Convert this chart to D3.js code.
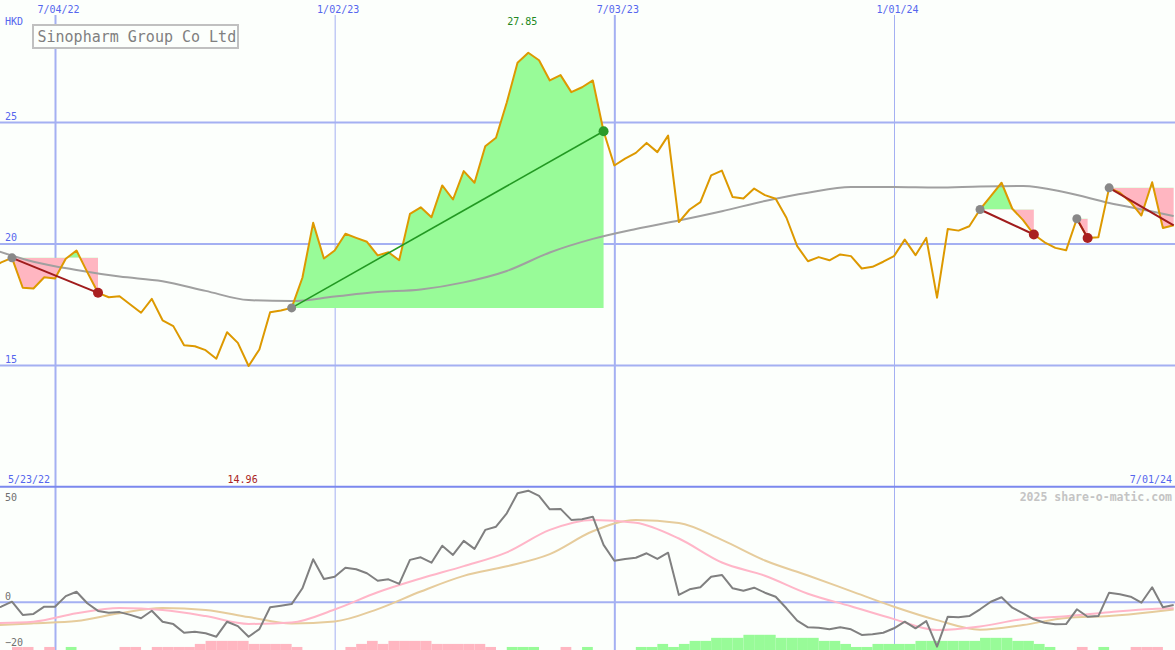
<!DOCTYPE html>
<html><head><meta charset="utf-8">
<script src="https://cdn.jsdelivr.net/npm/d3@7"></script>
<style>html,body{margin:0;padding:0;background:#fcfffc;} svg{display:block;}</style>
</head><body><svg id="c" width="1175" height="650"></svg>
<script>
// ---- data ----
const firstWeek = "2022-05-23";
const lastWeek = "2024-07-01";
const closes = [19.00,19.22,19.41,18.18,18.15,18.61,18.56,19.37,19.71,18.82,
17.97,17.79,17.83,17.49,17.15,17.72,16.84,16.60,15.81,15.77,
15.61,15.26,16.35,15.91,14.96,15.64,17.17,17.24,17.35,18.59,
20.85,19.38,19.71,20.40,20.23,20.07,19.51,19.64,19.31,21.22,
21.49,21.08,22.39,21.81,22.98,22.50,24.00,24.35,25.80,27.44,
27.85,27.54,26.71,26.93,26.23,26.43,26.71,24.62,23.21,23.49,
23.73,24.14,23.76,24.44,20.88,21.40,21.70,22.80,23.00,21.91,
21.85,22.26,21.99,21.84,21.06,19.89,19.27,19.44,19.31,19.55,
19.48,18.97,19.04,19.25,19.48,20.16,19.52,20.23,17.77,20.60,
20.53,20.71,21.40,21.95,22.50,21.43,20.96,20.37,20.05,19.82,
19.72,21.02,20.23,20.26,22.29,22.09,21.70,21.15,22.52,20.64,20.75];
const oscillator = [-3.5,-2.5,0.0,-6.6,-6.1,-2.5,-2.5,2.8,5.0,-0.8,
-4.6,-5.5,-5.2,-6.6,-8.3,-4.5,-10.0,-11.2,-15.5,-15.0,
-15.8,-17.5,-10.0,-12.2,-17.5,-13.7,-2.8,-2.0,-1.2,6.7,
21.2,11.3,12.5,17.0,16.2,14.2,10.5,11.2,8.9,20.9,
22.2,19.5,28.0,23.4,30.4,26.4,35.9,37.5,44.2,54.2,
55.5,52.9,46.2,46.4,40.9,41.2,42.5,28.4,20.5,21.4,
22.0,24.2,21.4,24.5,3.4,6.2,7.2,12.5,13.4,6.7,
5.5,7.0,4.5,2.5,-3.3,-9.5,-12.8,-13.0,-13.8,-12.8,
-13.8,-16.6,-16.3,-15.5,-13.3,-10.0,-13.3,-9.7,-22.5,-7.5,
-7.8,-7.2,-3.8,0.0,2.2,-3.0,-5.8,-8.8,-10.5,-11.3,
-11.2,-3.8,-7.5,-7.2,4.5,3.7,2.5,-0.5,7.2,-2.8,-1.6];
const histogram = [0,0,-1,-1,0,-1,0,1,0,0,
0,0,-1,-1,0,-1,-1,-1,-1,-2,
-3,-3,-3,-3,-2,-2,-2,-2,-1,0,
0,0,0,-1,-2,-3,-2,-3,-3,-3,
-3,-2,-2,-2,-2,-2,-1,0,1,1,
1,0,0,-1,0,1,0,0,0,0,
1,1,2,1,2,3,3,4,4,4,
5,5,5,4,4,4,4,3,3,2,
1,1,2,2,2,2,3,3,3,3,
3,3,4,4,4,3,3,2,1,0,
0,-1,0,1,0,0,-1,-1,-1,0,0];
const avgWeeks = [0,4,8,12,16,20,24,28,32,36,40,44,48,52,56,60,64,68,72,76,80,84,88,92,96,100,104,108,110];
const movingAvg = [19.79,19.25,18.91,18.64,18.45,18.05,17.67,17.63,17.82,18.00,18.11,18.40,18.87,19.63,20.19,20.60,20.95,21.33,21.75,22.09,22.32,22.32,22.30,22.35,22.37,22.10,21.67,21.32,21.13];
const oscFast = [-10.8,-10.0,-5.8,-3.2,-4.2,-7.2,-11.1,-10.4,-3.9,4.7,11.6,17.8,24.7,35.9,40.9,39.5,31.6,19.6,13.0,4.0,-2.3,-8.7,-14.2,-12.4,-8.7,-7.3,-5.3,-3.6,-3.3];
const oscSlow = [-11.9,-10.8,-9.7,-5.8,-3.2,-4.1,-7.7,-10.9,-9.9,-3.7,5.1,12.9,17.7,23.8,35.2,40.8,39.3,30.9,20.6,13.1,5.3,-2.5,-9.2,-14.0,-11.7,-8.1,-7.2,-5.2,-3.9];
const priceTicks = [15, 20, 25];
const oscTicks = [50, 0, -20];
const dateTicks = ["2022-07-04", "2023-01-02", "2023-07-03", "2024-01-01"];
const signalStarts = ["2022-06-06", "2022-12-05", "2024-02-26", "2024-04-29", "2024-05-20"];
const signalEnds   = ["2022-08-01", "2023-06-26", "2024-04-01", "2024-05-06", "2024-07-01"];
const signalOpen   = [false, false, false, false, true];
const title = "Sinopharm Group Co Ltd";
const currency = "HKD";
const credit = "2025 share-o-matic.com";

// ---- setup ----
const W = 1175, H = 650;
const parse = d3.utcParse("%Y-%m-%d");
const fmt = d3.utcFormat("%-m/%d/%y");
const weeks = d3.utcMonday.range(parse(firstWeek), d3.utcDay.offset(parse(lastWeek), 1));
const idx = s => d3.bisectLeft(weeks, parse(s));
const svg = d3.select("#c");
const MONO = "DejaVu Sans Mono, monospace";
const GRID = "#a4b0f2";
const BLUE = "#5566ee";

svg.append("rect").attr("width", W).attr("height", H).attr("fill", "#fcfffc");

const x = d3.scaleUtc().domain([parse(dateTicks[0]), parse(dateTicks[3])]).range([55, 894]);
const y = d3.scaleLinear().domain([15, 25]).range([365, 122]);
const yo = d3.scaleLinear().domain([0, 50]).range([601.7, 501.7]);
const yb = d3.scaleLinear().domain([0, 5]).range([650, 634.8]);

// ---- grid: horizontal price lines ----
const gy = svg.append("g").call(d3.axisLeft(y).tickValues(priceTicks).tickSize(-W).tickFormat(d3.format("d")));
gy.select(".domain").remove();
gy.selectAll("line").attr("stroke", GRID).attr("stroke-width", 2);
gy.selectAll("text").attr("x", 5).attr("y", -3).attr("dy", null).attr("text-anchor", "start")
  .attr("fill", BLUE).attr("font-family", MONO).attr("font-size", 10);

// oscillator zero line and labels
const go = svg.append("g").call(d3.axisLeft(yo).tickValues(oscTicks).tickSize(-W).tickFormat(d3.format("d")));
go.select(".domain").remove();
go.selectAll(".tick line").attr("stroke", d => d === 0 ? GRID : "none").attr("stroke-width", 2);
go.selectAll("text").attr("x", 5).attr("dy", null).attr("text-anchor", "start")
  .attr("y", d => d === 0 ? -2.5 : (d === 50 ? -1.5 : 4))
  .attr("fill", "#707070").attr("font-family", MONO).attr("font-size", 10);

// vertical date lines
const gx = svg.append("g").attr("transform", "translate(0,15)")
  .call(d3.axisTop(x).tickValues(dateTicks.map(parse)).tickSize(-(H - 15)).tickFormat(fmt));
gx.select(".domain").remove();
gx.selectAll("line").attr("stroke", GRID).attr("stroke-width", (d, i) => i % 2 === 0 ? 2 : 1);
gx.selectAll("text").attr("y", -2).attr("dy", null).attr("dx", 3)
  .attr("fill", BLUE).attr("font-family", MONO).attr("font-size", 10);

// ---- signal fills ----
const defs = svg.append("defs");
signalStarts.forEach((s, i) => {
  const a = idx(s), b = idx(signalEnds[i]);
  const base = closes[a];
  const pts = d3.range(a, b + 1);
  const area = d3.area().x(k => x(weeks[k])).y0(y(base)).y1(k => y(closes[k]));
  defs.append("clipPath").attr("id", "up" + i).append("rect")
    .attr("x", 0).attr("y", 0).attr("width", W).attr("height", y(base));
  defs.append("clipPath").attr("id", "dn" + i).append("rect")
    .attr("x", 0).attr("y", y(base)).attr("width", W).attr("height", H);
  svg.append("path").datum(pts).attr("d", area).attr("fill", "#98fb98").attr("clip-path", `url(#up${i})`);
  svg.append("path").datum(pts).attr("d", area).attr("fill", "#ffb6c1").attr("clip-path", `url(#dn${i})`);
});

// moving average
svg.append("path").datum(avgWeeks)
  .attr("d", d3.line().x(k => x(weeks[k])).y((k, i) => y(movingAvg[i])).curve(d3.curveMonotoneX))
  .attr("fill", "none").attr("stroke", "#a0a0a0").attr("stroke-width", 2);

// price line
svg.append("path").datum(closes)
  .attr("d", d3.line().x((d, i) => x(weeks[i])).y(d => y(d)))
  .attr("fill", "none").attr("stroke", "#dd9900").attr("stroke-width", 2).attr("stroke-linejoin", "round");

// trend lines and dots
signalStarts.forEach((s, i) => {
  const a = idx(s), b = idx(signalEnds[i]);
  const gain = closes[b] > closes[a];
  svg.append("line")
    .attr("x1", x(weeks[a])).attr("y1", y(closes[a]))
    .attr("x2", x(weeks[b])).attr("y2", y(closes[b]))
    .attr("stroke", gain ? "#229922" : "#a01c1c").attr("stroke-width", gain ? 1.6 : 2);
});
signalStarts.forEach((s, i) => {
  const a = idx(s), b = idx(signalEnds[i]);
  const gain = closes[b] > closes[a];
  svg.append("circle").attr("cx", x(weeks[a])).attr("cy", y(closes[a])).attr("r", 4.5).attr("fill", "#888888");
  if (!signalOpen[i]) {
    svg.append("circle").attr("cx", x(weeks[b])).attr("cy", y(closes[b])).attr("r", 5)
      .attr("fill", gain ? "#2a9a2a" : "#aa2020");
  }
});

// ---- oscillator panel ----
svg.append("g").selectAll("rect").data(histogram).join("rect")
  .attr("x", (d, i) => x(weeks[i]))
  .attr("width", (d, i) => i + 1 < weeks.length ? x(weeks[i + 1]) - x(weeks[i]) : 0)
  .attr("y", d => yb(Math.abs(d)))
  .attr("height", d => yb(0) - yb(Math.abs(d)))
  .attr("fill", d => d > 0 ? "#98fb98" : "#ffb6c1");

svg.append("path").datum(avgWeeks)
  .attr("d", d3.line().x(k => x(weeks[k])).y((k, i) => yo(oscSlow[i])).curve(d3.curveMonotoneX))
  .attr("fill", "none").attr("stroke", "#e6cc9c").attr("stroke-width", 2);
svg.append("path").datum(avgWeeks)
  .attr("d", d3.line().x(k => x(weeks[k])).y((k, i) => yo(oscFast[i])).curve(d3.curveMonotoneX))
  .attr("fill", "none").attr("stroke", "#ffb6c8").attr("stroke-width", 2);
svg.append("path").datum(oscillator)
  .attr("d", d3.line().x((d, i) => x(weeks[i])).y(d => yo(d)))
  .attr("fill", "none").attr("stroke", "#808080").attr("stroke-width", 2).attr("stroke-linejoin", "round");

// separator line
svg.append("line").attr("x1", 0).attr("x2", W).attr("y1", 486.7).attr("y2", 486.7)
  .attr("stroke", "#7b88ee").attr("stroke-width", 2);

// ---- texts ----
const maxI = d3.maxIndex(closes), minI = d3.minIndex(closes);
svg.append("text").attr("x", x(weeks[maxI]) - 6).attr("y", 25).attr("text-anchor", "middle")
  .attr("fill", "#228822").attr("font-family", MONO).attr("font-size", 10).text(d3.format(".2f")(closes[maxI]));
svg.append("text").attr("x", x(weeks[minI]) - 6).attr("y", 483).attr("text-anchor", "middle")
  .attr("fill", "#aa2222").attr("font-family", MONO).attr("font-size", 10).text(d3.format(".2f")(closes[minI]));
svg.append("text").attr("x", 8).attr("y", 483).attr("fill", BLUE).attr("font-family", MONO).attr("font-size", 10)
  .text(fmt(weeks[0]));
svg.append("text").attr("x", 1172).attr("y", 483).attr("text-anchor", "end").attr("fill", BLUE)
  .attr("font-family", MONO).attr("font-size", 10).text(fmt(weeks[weeks.length - 1]));
svg.append("text").attr("x", 5).attr("y", 25).attr("fill", BLUE).attr("font-family", MONO).attr("font-size", 10)
  .text(currency);
svg.append("text").attr("x", 1172).attr("y", 500.5).attr("text-anchor", "end").attr("fill", "#c4c4c4")
  .attr("font-family", MONO).attr("font-size", 11.5).attr("font-weight", "bold").text(credit);

svg.append("rect").attr("x", 33).attr("y", 25).attr("width", 205).attr("height", 23)
  .attr("fill", "#fcfffc").attr("stroke", "#c0c0c0").attr("stroke-width", 2);
svg.append("text").attr("x", 37.5).attr("y", 41.5).attr("fill", "#808080").attr("font-family", MONO)
  .attr("font-size", 15).text(title);
</script></body></html>
